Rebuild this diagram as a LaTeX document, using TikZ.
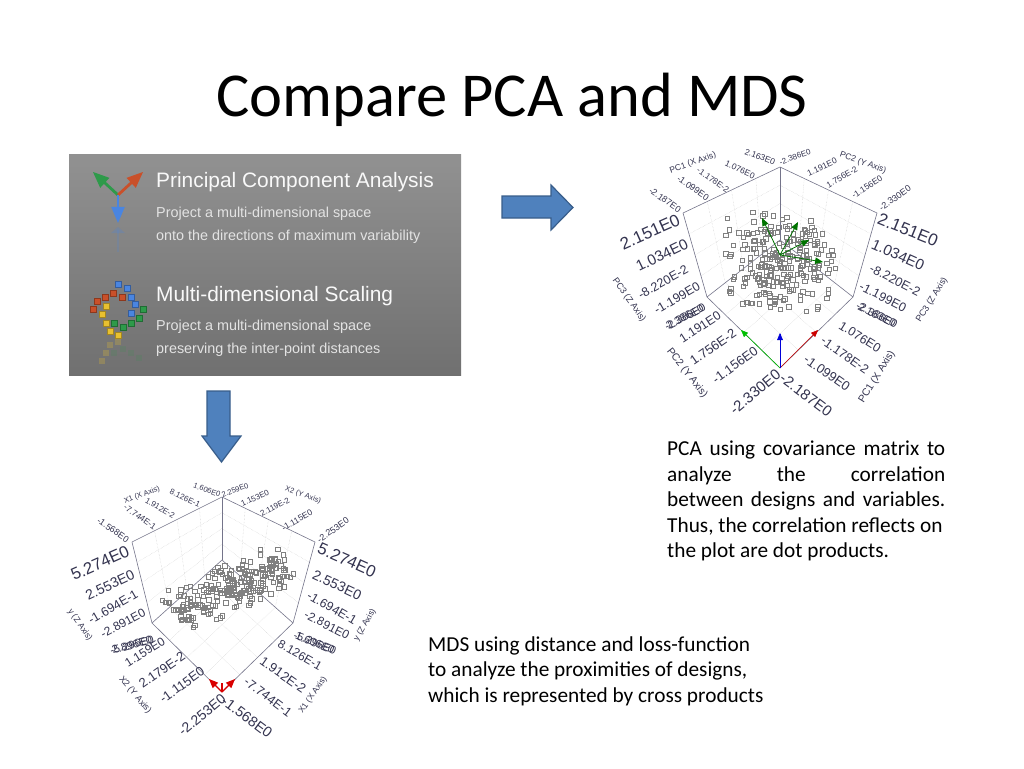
\documentclass[tikz,border=0pt]{standalone}
\usepackage{fontspec}
\setmainfont{Carlito}
\newfontfamily\labfont{Liberation Sans}
\usetikzlibrary{arrows,calc}
\definecolor{blockfill}{HTML}{4F81BD}
\definecolor{blockline}{HTML}{385D8A}
\definecolor{labcolor}{HTML}{33334F}
\definecolor{framecolor}{HTML}{74748A}
\definecolor{iconred}{HTML}{C9502A}
\definecolor{icongreen}{HTML}{2E9A4A}
\definecolor{iconblue}{HTML}{4A85E0}
\definecolor{iconyellow}{HTML}{E8C030}
\tikzset{
  slidetext/.style={anchor=north west,inner sep=0pt,align=left,font=\fontsize{21.3}{25.5}\selectfont},
  paneltitle/.style={anchor=west,inner sep=0pt,text=white!95!gray,font=\labfont\fontsize{20.9}{24}\selectfont},
  panelsub/.style={anchor=west,inner sep=0pt,text=white!78!gray,font=\labfont\fontsize{14.4}{16}\selectfont},
  blockarrow/.style={fill=blockfill,draw=blockline,line width=1.2pt},
  frameline/.style={draw=framecolor,line width=0.6pt},
  gridline/.style={draw=black!22,line width=0.4pt,densely dotted},
  pointbox/.style={draw=black!50,line width=0.5pt},
  axislab/.style={inner sep=0pt,text=labcolor},
  tiny arrow/.style={-triangle 45,line width=0.6pt},
  iconarrow/.style={-triangle 45,line width=2.8pt},
}

% back walls, floor and grid of one 3d plot
\newcommand{\plotcube}[8]{
  \coordinate (#1top) at #2;
  \coordinate (#1lt) at #3;
  \coordinate (#1rt) at #4;
  \coordinate (#1mid) at #5;
  \coordinate (#1lb) at #6;
  \coordinate (#1rb) at #7;
  \coordinate (#1bot) at #8;
  \foreach \t in {0.25,0.5,0.75}{
    \draw[gridline] ($(#1top)!\t!(#1mid)$)--($(#1lt)!\t!(#1lb)$);
    \draw[gridline] ($(#1top)!\t!(#1mid)$)--($(#1rt)!\t!(#1rb)$);
    \draw[gridline] ($(#1top)!\t!(#1lt)$)--($(#1mid)!\t!(#1lb)$);
    \draw[gridline] ($(#1top)!\t!(#1rt)$)--($(#1mid)!\t!(#1rb)$);
    \draw[gridline] ($(#1mid)!\t!(#1lb)$)--($(#1rb)!\t!(#1bot)$);
    \draw[gridline] ($(#1mid)!\t!(#1rb)$)--($(#1lb)!\t!(#1bot)$);
  };
  \draw[frameline] (#1lt)--(#1top)--(#1rt)--(#1rb)--(#1bot)--(#1lb)--(#1lt);
  \draw[frameline] (#1top)--(#1mid);
  \draw[frameline] (#1lb)--(#1mid)--(#1rb);
}

\begin{document}
\begin{tikzpicture}[x=1pt,y=-1pt]
  \useasboundingbox (0,0) rectangle (1024,768);

  \node[inner sep=0pt,font=\fontsize{62.5}{70}\selectfont] (title) at (512,100) {Compare PCA and MDS};

  % method panel
  \shade[top color=black!43,bottom color=black!56] (69,154) rectangle (461,375);
  \node[paneltitle] (pcahead) at (156,182) {Principal Component Analysis};
  \node[panelsub] (pcaone) at (156,214) {Project a multi-dimensional space};
  \node[panelsub] (pcatwo) at (156,237) {onto the directions of maximum variability};
  \node[paneltitle] (mdshead) at (156,296) {Multi-dimensional Scaling};
  \node[panelsub] (mdsone) at (156,327) {Project a multi-dimensional space};
  \node[panelsub] (mdstwo) at (156,350) {preserving the inter-point distances};

  \draw[iconarrow,icongreen] (118,195)--(93,172);
  \draw[iconarrow,iconred] (118,195)--(143,172);
  \draw[iconarrow,iconblue] (118,195)--(118,223);
  \draw[line width=2.4pt,iconblue,opacity=0.2] (118,252)--(118,230);
  \fill[iconblue,opacity=0.25] (111,233)--(118,227)--(125,233)--cycle;

  \foreach \x/\y in {118/284,127/288,131/297,135/304,131/313}{
    \draw[fill=iconblue,draw=iconblue!70!black,line width=0.3pt] (\x-3,\y-3) rectangle (\x+3,\y+3);
  };
  \foreach \x/\y in {93/309,97/301,105/297,113/293,122/297}{
    \draw[fill=iconred,draw=iconred!70!black,line width=0.3pt] (\x-3,\y-3) rectangle (\x+3,\y+3);
  };
  \foreach \x/\y in {106/306,102/314,106/323,110/331,118/335}{
    \draw[fill=iconyellow,draw=iconyellow!70!black,line width=0.3pt] (\x-3,\y-3) rectangle (\x+3,\y+3);
  };
  \foreach \x/\y in {114/323,123/327,131/323,139/318,143/309}{
    \draw[fill=icongreen,draw=icongreen!70!black,line width=0.3pt] (\x-3,\y-3) rectangle (\x+3,\y+3);
  };
  \foreach \x/\y in {118/342,110/345,106/353,102/361}{
    \fill[iconyellow,opacity=0.25] (\x-3,\y-3) rectangle (\x+3,\y+3);
  };
  \foreach \x/\y in {114/353,123/349,131/353,139/358}{
    \fill[icongreen,opacity=0.15] (\x-3,\y-3) rectangle (\x+3,\y+3);
  };

  % block arrows
  \draw[blockarrow] (502,196)--(551,196)--(551,185)--(573,207.5)--(551,230)--(551,218)--(502,218)--cycle;
  \draw[blockarrow] (207,391)--(230,391)--(230,436)--(241,436)--(221.5,462)--(202,436)--(207,436)--cycle;

  % PCA plot
  \plotcube{pca}{(780,167)}{(683,213)}{(877,213)}{(780,240)}{(707,297)}{(853,297)}{(780,368)}
  \pgfmathsetseed{2711}
  \foreach \i in {1,...,250}{
    \pgfmathsetmacro{\px}{779+38*rand+22*rand}
    \pgfmathsetmacro{\py}{262+32*rand+20*rand}
    \draw[pointbox] (\px-2.2,\py-2.2) rectangle (\px+2.2,\py+2.2);
  };
  \coordinate (pcaorg) at (780,255);
  \coordinate (pcaeva) at (762,218);
  \coordinate (pcaevb) at (798,222);
  \coordinate (pcaevc) at (809,240);
  \coordinate (pcaevd) at (823,262);
  \coordinate (pcax) at (818,330);
  \coordinate (pcay) at (741,330);
  \coordinate (pcaz) at (780,333);
  \foreach \e in {a,b,c,d}{
    \draw[tiny arrow,line width=0.8pt,green!45!black] (pcaorg)--(pcaev\e);
  };
  \draw[tiny arrow,red!80!black] (pcabot)--(pcax);
  \draw[tiny arrow,green!75!black] (pcabot)--(pcay);
  \draw[tiny arrow,blue!85!black] (pcabot)--(pcaz);

  \foreach \x/\y/\r/\s/\txt [count=\n] in {
    650/232/24/17/{2.151E0}, 662/255/26/15/{1.034E0}, 663/282/29/12.5/{-8.220E-2},
    677/298/30/12.5/{-1.199E0}, 685/317/28/11/{-2.386E0}, 685/317/28/11/{2.386E0},
    629/300/-55/9/{PC3 (Z Axis)}, 687/373/-52/10.4/{PC2 (Y Axis)},
    700/327/33/12.5/{1.191E0}, 713/347/35/13/{1.756E-2}, 735/365/36/13/{-1.156E0},
    755/392/40/15/{-2.330E0}, 806/395/-37/15/{-2.187E0}, 827/373/-35/13/{-1.099E0},
    845/355/-35/12.5/{-1.178E-2}, 860/337/-32/12.5/{1.076E0}, 877/315/-27/11/{2.163E0},
    877/315/-27/11/{-2.386E0}, 883/297/-27/12.5/{-1.199E0}, 895/280/-27/12.5/{-8.220E-2},
    898/255/-24/15/{1.034E0}, 908/230/-22/17/{2.151E0}, 932/300/58/9/{PC3 (Z Axis)},
    877/377/58/10.4/{PC1 (X Axis)}, 665/200/-35/9/{-2.187E0}, 693/188/-35/9/{-1.099E0},
    713/180/-35/8.4/{-1.178E-2}, 740/170/-25/8.5/{1.076E0}, 760/157/-20/8.5/{2.163E0},
    795/157/20/8/{-2.386E0}, 822/167/25/8.5/{1.191E0}, 842/177/30/8.4/{1.756E-2},
    867/187/33/8.5/{-1.156E0}, 895/198/35/9/{-2.330E0}, 693/163/20/8.5/{PC1 (X Axis)},
    863/163/-20/8.5/{PC2 (Y Axis)}}{
    \node[axislab,rotate=\r,font=\labfont\fontsize{\s}{\s}\selectfont] (pcalab\n) at (\x,\y) {\txt};
  };

  % MDS plot
  \plotcube{mds}{(222,497)}{(132,542)}{(315,542)}{(222,560)}{(152,623)}{(293,623)}{(222,692)}
  \pgfmathsetseed{5309}
  \foreach \i in {1,...,230}{
    \pgfmathsetmacro{\mt}{0.85*rand+0.25*rand}
    \pgfmathsetmacro{\mn}{0.6*rand+0.4*rand}
    \pgfmathsetmacro{\px}{228+62*\mt+8*\mn}
    \pgfmathsetmacro{\py}{590-28*\mt+24*\mn}
    \draw[pointbox] (\px-2.2,\py-2.2) rectangle (\px+2.2,\py+2.2);
  };
  \coordinate (mdsx) at (235,679);
  \coordinate (mdsy) at (209,679);
  \coordinate (mdsz) at (222,683);
  \draw[-triangle 45,line width=1.1pt,red!85!black] (mdsbot)--(mdsx);
  \draw[-triangle 45,line width=1.1pt,red!85!black] (mdsbot)--(mdsy);
  \draw[line width=1.1pt,red!85!black] (mdsbot)--(mdsz);

  \foreach \x/\y/\r/\s/\txt [count=\n] in {
    100/563/24/16.6/{5.274E0}, 110/585/25/14/{2.553E0}, 113/607/30/12.5/{-1.694E-1},
    123/623/28/12/{-2.891E0}, 132/645/15/11/{-5.296E0}, 132/645/15/11/{2.896E0},
    80/625/-55/8.5/{y (Z Axis)}, 135/695/-50/9/{X2 (Y Axis)}, 145/652/32/12/{1.159E0},
    162/670/35/13/{2.179E-2}, 182/685/36/13/{-1.115E0}, 202/715/40/14/{-2.253E0},
    247/717/-37/14.5/{-1.568E0}, 268/697/-37/12.7/{-7.744E-1}, 283/675/-35/13/{1.912E-2},
    300/655/-30/12/{8.126E-1}, 315/643/-22/11/{1.606E0}, 315/643/-22/11/{-5.296E0},
    327/625/-27/12/{-2.891E0}, 332/608/-30/12.5/{-1.694E-1}, 337/585/-25/14/{2.553E0},
    347/560/-24/16.6/{5.274E0}, 365/625/60/8.5/{y (Z Axis)}, 313/695/55/8.5/{X1 (X Axis)},
    113/530/-35/9/{-1.568E0}, 140/517/-35/8.5/{-7.744E-1}, 160/508/-30/8/{1.912E-2},
    185/498/-25/8/{8.126E-1}, 207/490/-20/7.5/{1.606E0}, 235/490/20/7.5/{2.259E0},
    255/498/25/8/{1.153E0}, 275/507/28/8/{2.119E-2}, 297/520/30/8.5/{-1.115E0},
    333/530/35/9/{-2.253E0}, 142/495/20/7.5/{X1 (X Axis)}, 303/495/-20/7.5/{X2 (Y Axis)}}{
    \node[axislab,rotate=\r,font=\labfont\fontsize{\s}{\s}\selectfont] (mdslab\n) at (\x,\y) {\txt};
  };

  % captions
  \node[slidetext,text width=278pt,align=justify] (pcanote) at (667,441) {PCA using covariance matrix to\linebreak analyze the correlation\linebreak between designs and variables.\linebreak Thus, the correlation reflects on\\ the plot are dot products.};
  \node[slidetext] (mdsnote) at (428,636) {MDS using distance and loss-function\\ to analyze the proximities of designs,\\ which is represented by cross products};
\end{tikzpicture}
\end{document}
